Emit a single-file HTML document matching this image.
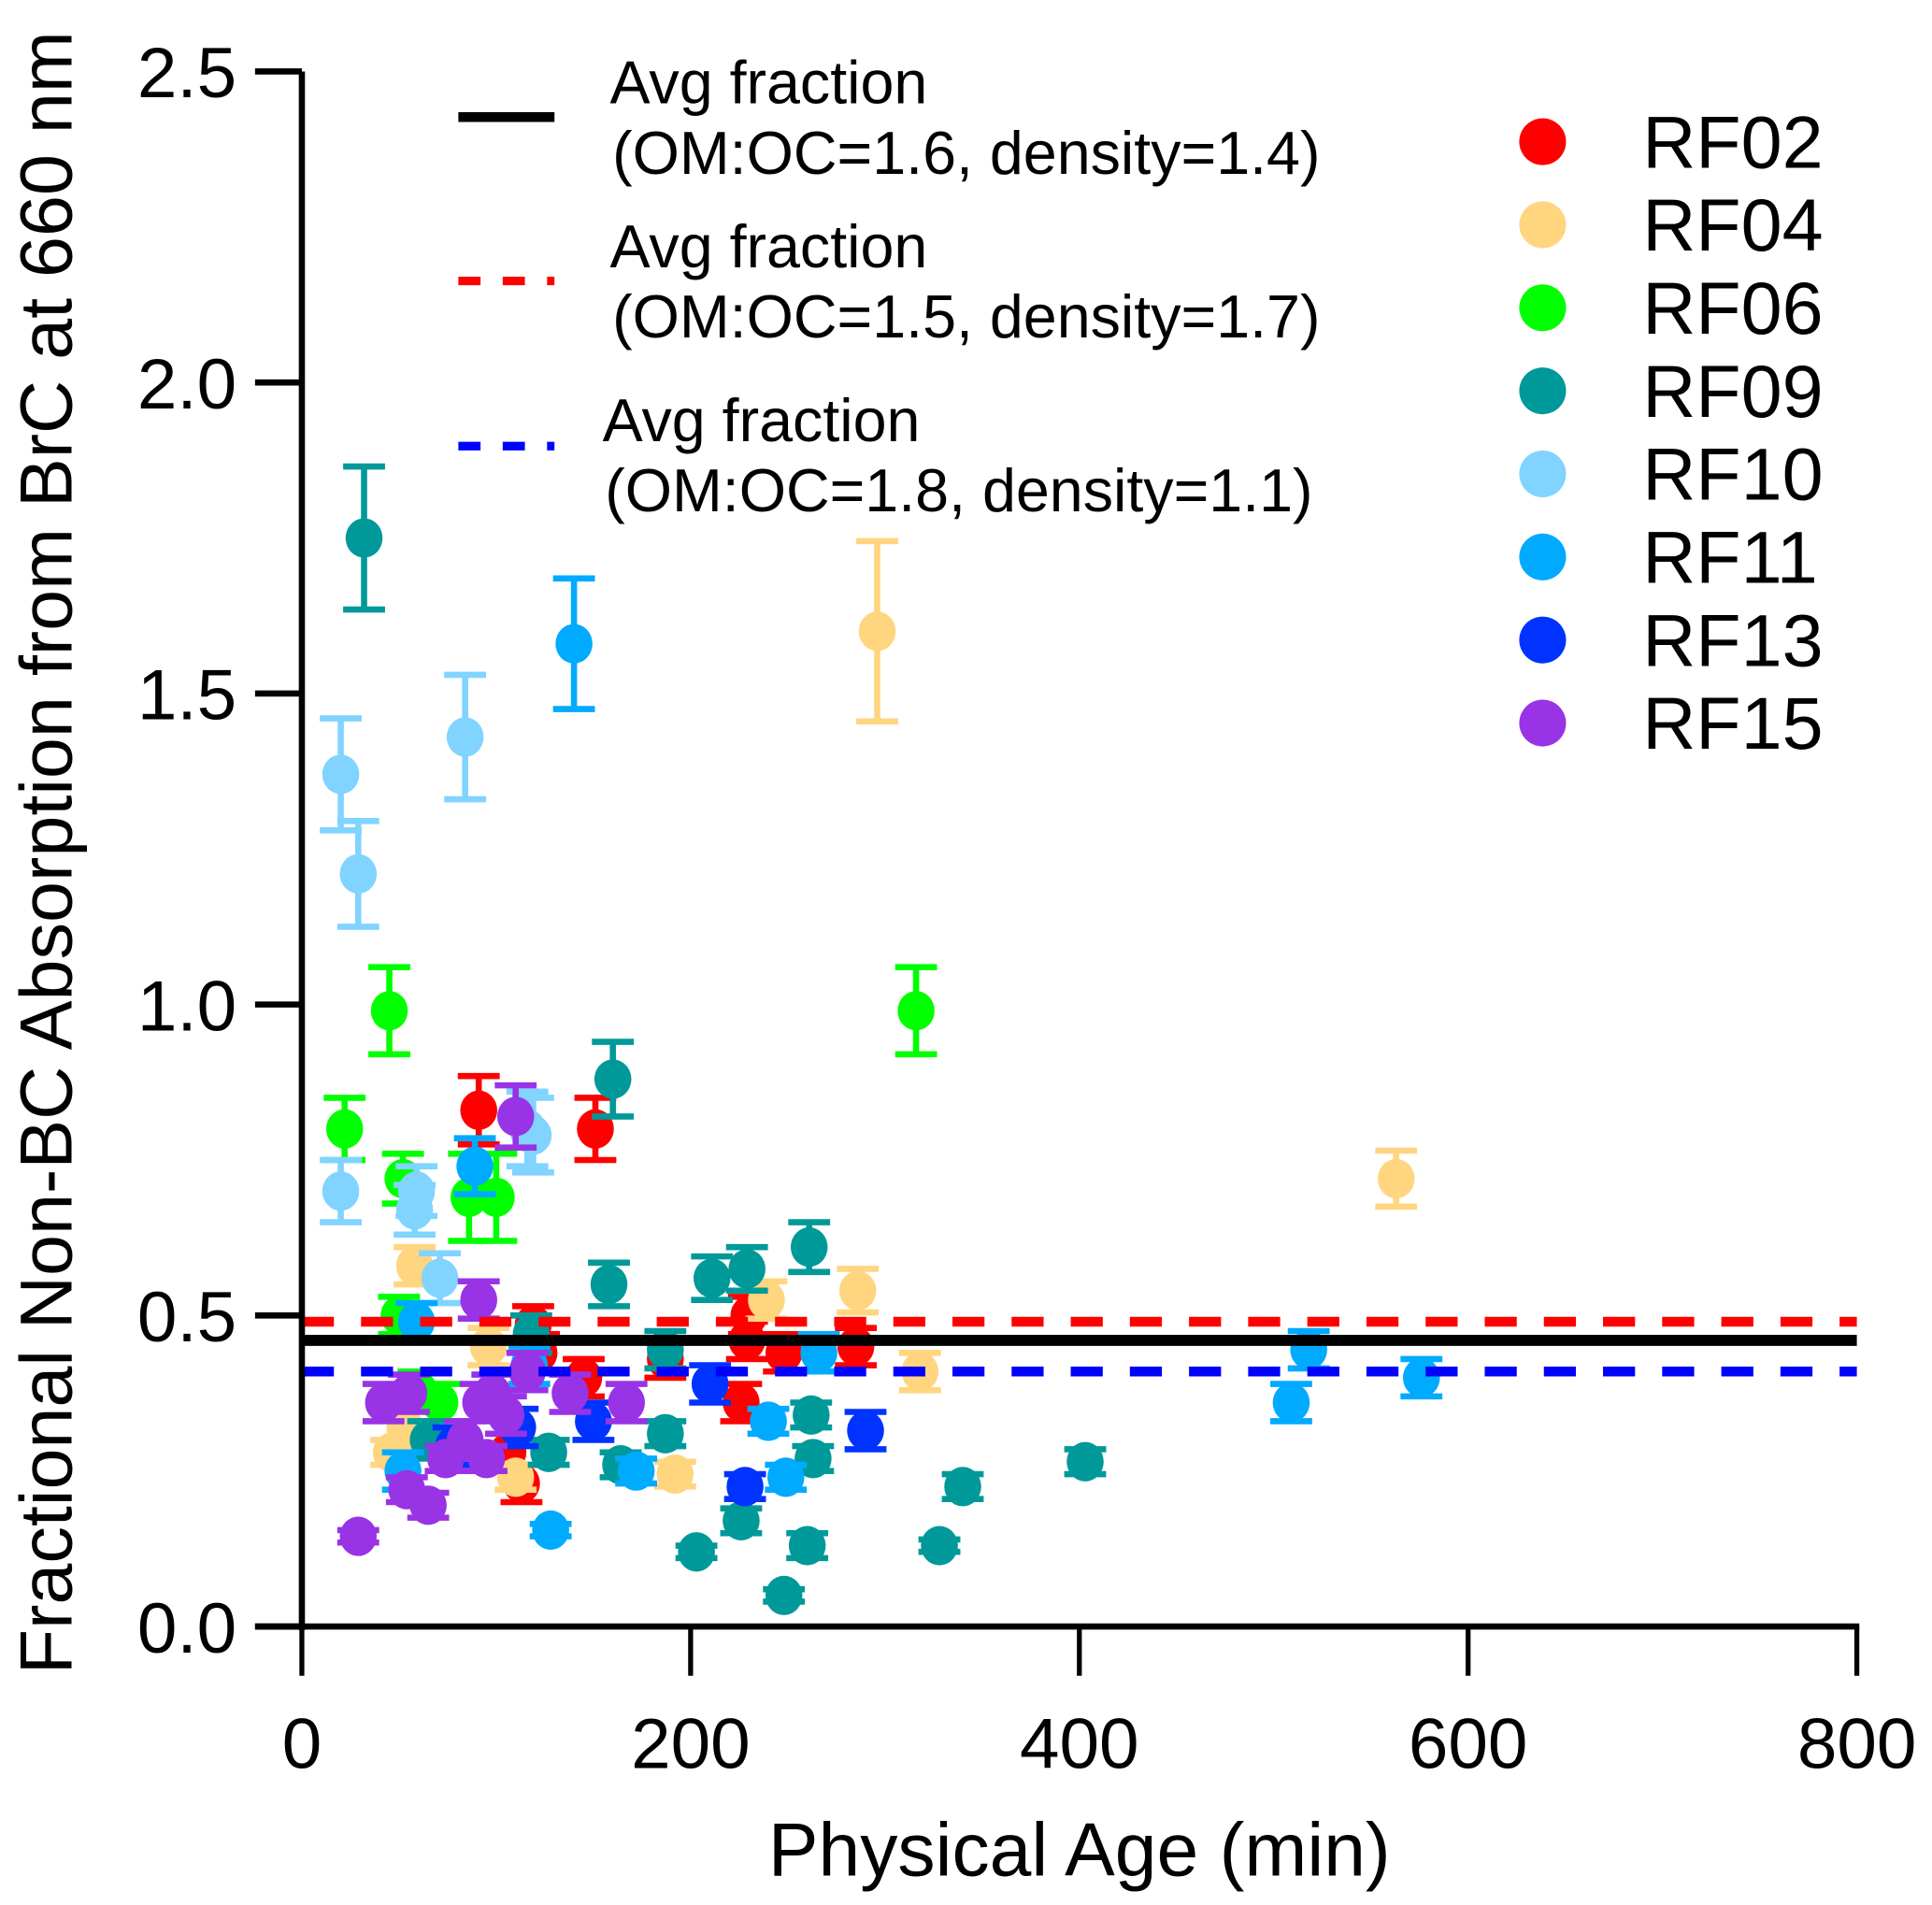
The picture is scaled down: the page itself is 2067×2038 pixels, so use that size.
<!DOCTYPE html>
<html><head><meta charset="utf-8"><style>
html,body{margin:0;padding:0;background:#fff}
svg{display:block}
text{font-family:"Liberation Sans",Arial,sans-serif;fill:#000}
</style></head><body>
<svg id="chart" width="2067" height="2038" viewBox="0 0 1568 1546" xmlns="http://www.w3.org/2000/svg">
<g id="marks"></g>
<g id="axes"></g>
<g id="legend"></g>
</svg>
<script>
const flights = ["RF02","RF04","RF06","RF09","RF10","RF11","RF13","RF15"];
const flightColors = ["#ff0000","#ffd580","#00ff00","#009999","#80d4ff","#00aaff","#0033ff","#9933e6"];
const rf02 = [[91,0.83,0.055],[151,0.80,0.05],[119,0.485,0.03],[122,0.44,0.03],[145,0.40,0.03],[187,0.43,0.03],[229,0.46,0.03],[230,0.50,0.03],[226,0.36,0.03],[248,0.44,0.03],[285,0.45,0.03],[113,0.23,0.03],[106,0.28,0.03]];
const rf04 = [[296,1.60,0.145],[563,0.72,0.045],[58,0.58,0.03],[239,0.525,0.03],[286,0.54,0.035],[318,0.41,0.03],[96,0.45,0.03],[46,0.28,0.02],[110,0.24,0.02],[192,0.245,0.02],[53,0.32,0.03]];
const rf06 = [[45,0.99,0.07],[316,0.99,0.07],[22,0.80,0.05],[52,0.72,0.04],[86,0.69,0.07],[100,0.69,0.07],[50,0.50,0.03],[71,0.36,0.03],[60,0.38,0.03]];
const rf09 = [[32,1.75,0.115],[160,0.88,0.06],[158,0.55,0.035],[211,0.56,0.035],[229,0.575,0.035],[261,0.61,0.04],[187,0.445,0.03],[118,0.47,0.03],[127,0.28,0.02],[187,0.31,0.02],[262,0.34,0.02],[263,0.27,0.02],[164,0.26,0.02],[226,0.17,0.02],[260,0.13,0.02],[203,0.12,0.01],[248,0.05,0.01],[328,0.13,0.01],[340,0.225,0.02],[403,0.265,0.02],[65,0.30,0.03]];
const rf10 = [[20,1.37,0.09],[29,1.21,0.085],[84,1.43,0.1],[20,0.70,0.05],[59,0.70,0.04],[58,0.67,0.04],[71,0.56,0.04],[116,0.80,0.06],[119,0.79,0.06]];
const rf11 = [[140,1.58,0.105],[89,0.74,0.045],[59,0.49,0.03],[518,0.445,0.03],[509,0.36,0.03],[576,0.40,0.03],[266,0.44,0.03],[240,0.33,0.02],[249,0.24,0.02],[172,0.25,0.02],[128,0.155,0.01],[52,0.25,0.03],[117,0.42,0.03]];
const rf13 = [[210,0.39,0.03],[290,0.315,0.03],[228,0.225,0.02],[150,0.33,0.03],[111,0.32,0.03],[78,0.29,0.03]];
const rf15 = [[91,0.525,0.03],[110,0.82,0.05],[42,0.36,0.03],[29,0.145,0.01],[55,0.375,0.03],[54,0.22,0.02],[65,0.195,0.02],[74,0.27,0.02],[84,0.30,0.03],[92,0.36,0.03],[98,0.375,0.03],[105,0.34,0.03],[116,0.41,0.03],[138,0.375,0.03],[167,0.36,0.03],[95,0.27,0.02]];
const seriesData = [rf02,rf04,rf06,rf09,rf10,rf11,rf13,rf15];
const xTicks = [0,200,400,600,800];
const yTicks = [0.0,0.5,1.0,1.5,2.0,2.5];
const avgValues = [0.46,0.49,0.41];
const avgLabels = ["(OM:OC=1.6, density=1.4)","(OM:OC=1.5, density=1.7)","(OM:OC=1.8, density=1.1)"];

const NS="http://www.w3.org/2000/svg";
const X0=245,X1=1507,Y0=1320,Y1=58;
function sx(v){return X0+(v-0)/(800-0)*(X1-X0);}
function sy(v){return Y0-(v-0)/(2.5-0)*(Y0-Y1);}
function mk(tag,attrs,parent){const e=document.createElementNS(NS,tag);for(const k in attrs)e.setAttribute(k,attrs[k]);parent.appendChild(e);return e;}
const marks=document.getElementById('marks'),axes=document.getElementById('axes'),legend=document.getElementById('legend');

seriesData.forEach((arr,si)=>{
  const g=mk('g',{},marks);
  
  
  const c=flightColors[si];
  arr.forEach((p,i)=>{
    const x=sx(p[0]),y=sy(p[1]),yt=sy(p[1]+p[2]),yb=sy(p[1]-p[2]);
    const eb=mk('path',{d:`M${x},${yt}V${yb}M${x-17},${yt}H${x+17}M${x-17},${yb}H${x+17}`,stroke:c,'stroke-width':5,fill:'none'},g);
    
    
    const pt=mk('ellipse',{cx:x,cy:y,rx:15,ry:16,fill:c},g);
    
    
  });
});

const avgStyles=[{c:'#000',d:'none'},{c:'#ff0000',d:'26,22'},{c:'#0000ff',d:'26,22'}];
avgValues.forEach((v,i)=>{
  const l=mk('line',{x1:X0,x2:X1,y1:sy(v),y2:sy(v),stroke:avgStyles[i].c,'stroke-width':i==0?9:8,'stroke-dasharray':avgStyles[i].d},marks);
  
  
});

const ya=mk('line',{x1:X0,x2:X0,y1:Y1,y2:Y0+3,stroke:'#000','stroke-width':5},axes);


const xa=mk('line',{x1:207,x2:X1+2,y1:Y0,y2:Y0,stroke:'#000','stroke-width':5},axes);


yTicks.forEach(v=>{
  mk('line',{x1:207,x2:X0,y1:sy(v),y2:sy(v),stroke:'#000','stroke-width':5},axes);
  const t=mk('text',{x:192,y:sy(v)+21,'text-anchor':'end','font-size':58},axes);
  t.textContent=v.toFixed(1);
  
  
});
xTicks.forEach(v=>{
  mk('line',{x1:sx(v),x2:sx(v),y1:Y0,y2:1360,stroke:'#000','stroke-width':4},axes);
  const t=mk('text',{x:sx(v),y:1435,'text-anchor':'middle','font-size':58},axes);
  t.textContent=v;
  
  
});
const xt=mk('text',{x:876,y:1522,'text-anchor':'middle','font-size':61},axes);
xt.textContent='Physical Age (min)';


const yt=mk('text',{x:0,y:0,'text-anchor':'middle','font-size':60,transform:'translate(58,692) rotate(-90)'},axes);
yt.textContent='Fractional Non-BC Absorption from BrC at 660 nm';



const ly=[95,228,362],ltx=[495,495,489],lty=[84,217,358];
avgValues.forEach((v,i)=>{
  const g=mk('g',{},legend);
  
  
  mk('line',{x1:372,x2:450,y1:ly[i],y2:ly[i],stroke:avgStyles[i].c,'stroke-width':i==0?8:7,'stroke-dasharray':i==0?'none':'18,18'},g);
  const t1=mk('text',{x:ltx[i],y:lty[i],'font-size':49},g);t1.textContent='Avg fraction';
  const t2=mk('text',{x:ltx[i]+2,y:lty[i]+57,'font-size':49},g);t2.textContent=avgLabels[i];
});
flights.forEach((f,i)=>{
  const y=115+i*67.4;
  const g=mk('g',{},legend);
  
  
  mk('circle',{cx:1252,cy:y,r:19,fill:flightColors[i]},g);
  const t=mk('text',{x:1333,y:y+21,'font-size':60},g);t.textContent=f;
});
</script>
</body></html>
